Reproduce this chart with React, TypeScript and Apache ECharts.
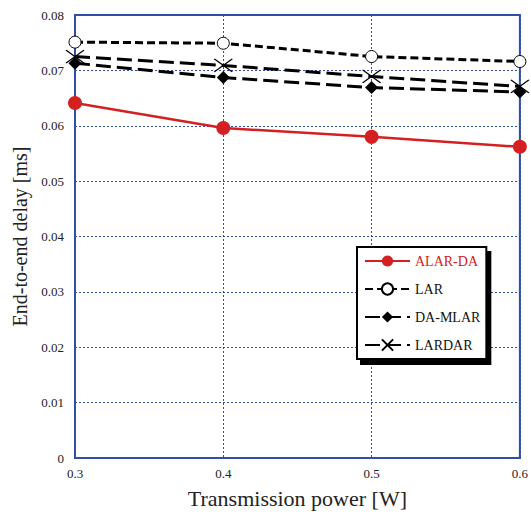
import React, { useEffect, useRef } from "react";
import * as echarts from "echarts";

const xValues = [0.3, 0.4, 0.5, 0.6];
const alarDa = [0.0641, 0.0596, 0.058, 0.0562];
const lar = [0.0751, 0.0749, 0.0725, 0.0716];
const daMlar = [0.0713, 0.0687, 0.0669, 0.0661];
const lardar = [0.0725, 0.0709, 0.0689, 0.0671];

const BLUE = "#2f4fa8";
const FONT = "'Liberation Serif', 'Times New Roman', serif";

const pairs = (ys: number[]) => xValues.map((x, i) => [x, ys[i]]);

export default function App() {
  const ref = useRef<HTMLDivElement>(null);
  useEffect(() => {
    if (!ref.current) return;
    const chart = echarts.init(ref.current, undefined, { renderer: "svg" });
    chart.setOption({
      animation: false,
      backgroundColor: "#fff",
      textStyle: { fontFamily: FONT },
      grid: {
        left: 75,
        right: 9,
        top: 15,
        bottom: 55,
        show: true,
        borderColor: BLUE,
        borderWidth: 2,
        backgroundColor: "transparent",
      },
      xAxis: {
        type: "value",
        min: 0.3,
        max: 0.6,
        interval: 0.1,
        name: "Transmission power [W]",
        nameLocation: "middle",
        nameGap: 29,
        nameTextStyle: { fontFamily: FONT, fontSize: 22, color: "#222" },
        axisLine: { show: true, lineStyle: { color: BLUE, width: 2 } },
        axisTick: { show: false },
        axisLabel: {
          fontFamily: FONT,
          fontSize: 13,
          color: "#222",
          margin: 9,
          formatter: (v: number) => v.toFixed(1),
        },
        splitLine: { show: true, lineStyle: { color: BLUE, type: [2, 2], width: 1 } },
      },
      yAxis: {
        type: "value",
        min: 0,
        max: 0.08,
        interval: 0.01,
        name: "End-to-end delay [ms]",
        nameLocation: "middle",
        nameGap: 45,
        nameTextStyle: { fontFamily: FONT, fontSize: 20, color: "#222" },
        axisLine: { show: true, lineStyle: { color: BLUE, width: 2 } },
        axisTick: { show: false },
        axisLabel: {
          fontFamily: FONT,
          fontSize: 13,
          color: "#222",
          margin: 11,
          formatter: (v: number) => (v === 0 ? "0" : v.toFixed(2)),
        },
        splitLine: { show: true, lineStyle: { color: BLUE, type: [2, 2], width: 1 } },
      },
      legend: {
        orient: "vertical",
        left: 357,
        top: 247,
        itemWidth: 45,
        itemHeight: 14,
        itemGap: 14,
        padding: [7, 6, 7, 7],
        backgroundColor: "#fff",
        borderColor: "#000",
        borderWidth: 2,
        borderRadius: 0,
        shadowColor: "#000",
        shadowBlur: 0,
        shadowOffsetX: 4,
        shadowOffsetY: 5,
        textStyle: { fontFamily: FONT, fontSize: 14, color: "#111" },
        data: [
          { name: "ALAR-DA", textStyle: { color: "#d42020" } },
          { name: "LAR" },
          { name: "DA-MLAR" },
          { name: "LARDAR" },
        ],
      },
      series: [
        {
          name: "ALAR-DA",
          type: "line",
          data: pairs(alarDa),
          symbol: "circle",
          symbolSize: 14,
          itemStyle: { color: "#d42020" },
          lineStyle: { color: "#d42020", width: 2.5 },
          z: 5,
        },
        {
          name: "LAR",
          type: "line",
          data: pairs(lar),
          symbol: "circle",
          symbolSize: 12,
          itemStyle: { color: "#fff", borderColor: "#000", borderWidth: 1 },
          lineStyle: { color: "#000", width: 3, type: [8, 4] },
          z: 4,
        },
        {
          name: "DA-MLAR",
          type: "line",
          data: pairs(daMlar),
          symbol: "diamond",
          symbolSize: 13,
          itemStyle: { color: "#000" },
          lineStyle: { color: "#000", width: 3, type: [15, 6] },
          z: 3,
        },
        {
          name: "LARDAR",
          type: "line",
          data: pairs(lardar),
          symbol: "path://M0,0L10,7M10,0L0,7",
          symbolSize: [18, 13],
          itemStyle: { color: "transparent", borderColor: "#000", borderWidth: 1.3 },
          lineStyle: { color: "#000", width: 3, type: [15, 6] },
          z: 3,
        },
      ],
    });
    return () => chart.dispose();
  }, []);
  return (
    <div
      ref={ref}
      style={{ position: "absolute", left: 0, top: 0, width: 531, height: 514 }}
    />
  );
}
